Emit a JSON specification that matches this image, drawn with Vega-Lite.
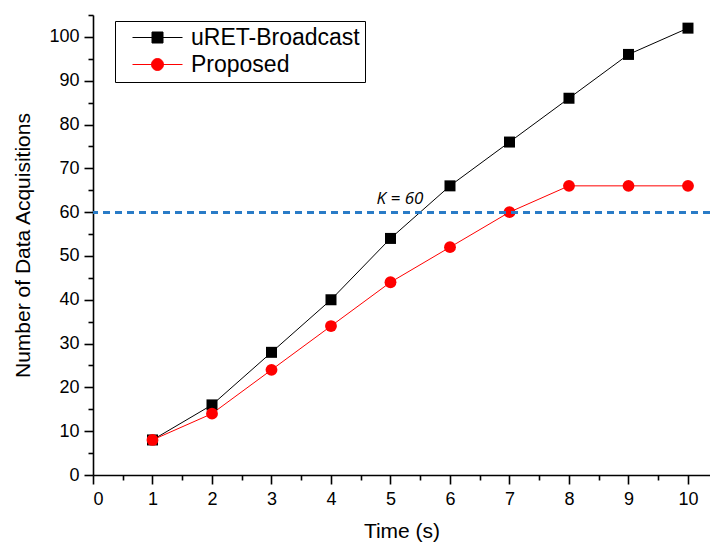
{
  "$schema": "https://vega.github.io/schema/vega-lite/v6.json",
  "width": 617,
  "height": 460,
  "autosize": "none",
  "padding": {"left": 93, "top": 15, "right": 0, "bottom": 70},
  "background": "white",
  "config": {
    "font": "Liberation Sans",
    "view": {"stroke": null},
    "axis": {
      "domainColor": "black", "tickColor": "black", "labelColor": "black", "titleColor": "black",
      "grid": false, "labelFont": "Liberation Sans", "titleFont": "Liberation Sans",
      "titleFontWeight": "normal", "labelFontSize": 18, "titleFontSize": 21,
      "domainWidth": 1.6, "tickWidth": 1.6
    }
  },
  "data": {
    "values": [
      {"t": 1, "n": 8, "series": "uRET-Broadcast"},
      {"t": 2, "n": 16, "series": "uRET-Broadcast"},
      {"t": 3, "n": 28, "series": "uRET-Broadcast"},
      {"t": 4, "n": 40, "series": "uRET-Broadcast"},
      {"t": 5, "n": 54, "series": "uRET-Broadcast"},
      {"t": 6, "n": 66, "series": "uRET-Broadcast"},
      {"t": 7, "n": 76, "series": "uRET-Broadcast"},
      {"t": 8, "n": 86, "series": "uRET-Broadcast"},
      {"t": 9, "n": 96, "series": "uRET-Broadcast"},
      {"t": 10, "n": 102, "series": "uRET-Broadcast"},
      {"t": 1, "n": 8, "series": "Proposed"},
      {"t": 2, "n": 14, "series": "Proposed"},
      {"t": 3, "n": 24, "series": "Proposed"},
      {"t": 4, "n": 34, "series": "Proposed"},
      {"t": 5, "n": 44, "series": "Proposed"},
      {"t": 6, "n": 52, "series": "Proposed"},
      {"t": 7, "n": 60, "series": "Proposed"},
      {"t": 8, "n": 66, "series": "Proposed"},
      {"t": 9, "n": 66, "series": "Proposed"},
      {"t": 10, "n": 66, "series": "Proposed"}
    ]
  },
  "resolve": {"axis": {"x": "independent", "y": "independent"}},
  "layer": [
    {
      "mark": {"type": "line", "strokeWidth": 1},
      "encoding": {
        "x": {"field": "t", "type": "quantitative", "scale": {"domain": [0, 10.37], "nice": false, "zero": false},
              "axis": {"orient": "bottom", "values": [0,1,2,3,4,5,6,7,8,9,10], "title": "Time (s)", "tickSize": 9, "labelPadding": 6, "titlePadding": 12}},
        "y": {"field": "n", "type": "quantitative", "scale": {"domain": [0, 105], "nice": false},
              "axis": {"orient": "left", "values": [0,10,20,30,40,50,60,70,80,90,100], "title": "Number of Data Acquisitions", "tickSize": 9, "labelPadding": 5, "titlePadding": 15}},
        "color": {
          "field": "series", "type": "nominal",
          "scale": {"domain": ["uRET-Broadcast", "Proposed"], "range": ["black", "#ff0000"]},
          "legend": {
            "orient": "none", "legendX": 22, "legendY": 6, "title": null,
            "strokeColor": "black", "padding": 5,
            "labelFontSize": 23, "labelFont": "Liberation Sans", "labelColor": "black", "labelLimit": 300,
            "symbolSize": 100, "symbolOffset": 26, "labelOffset": 22, "rowPadding": 3,
            "symbolStrokeWidth": 1,
            "encode": {
              "symbols": {
                "update": {
                  "shape": {"signal": "datum.value === 'uRET-Broadcast' ? 'M-5,0H5M-1.1,-1.1H1.1V1.1H-1.1Z' : 'M-5,0H5M1.2,0A1.2,1.2 0 1,1 -1.2,0A1.2,1.2 0 1,1 1.2,0Z'"},
                  "fill": {"signal": "datum.value === 'uRET-Broadcast' ? 'black' : '#ff0000'"},
                  "size": {"value": 100},
                  "strokeWidth": {"value": 1},
                  "opacity": {"value": 1}
                }
              }
            }
          }
        }
      }
    },
    {
      "transform": [{"filter": "datum.series === 'uRET-Broadcast'"}],
      "mark": {"type": "point", "shape": "square", "filled": true, "opacity": 1, "color": "black", "size": 121},
      "encoding": {
        "x": {"field": "t", "type": "quantitative",
              "axis": {"orient": "bottom", "values": [0.5,1.5,2.5,3.5,4.5,5.5,6.5,7.5,8.5,9.5], "labels": false, "title": null, "tickSize": 5, "domain": false}},
        "y": {"field": "n", "type": "quantitative",
              "axis": {"orient": "left", "values": [5,15,25,35,45,55,65,75,85,95,105], "labels": false, "title": null, "tickSize": 5, "domain": false}}
      }
    },
    {
      "transform": [{"filter": "datum.series === 'Proposed'"}],
      "mark": {"type": "point", "shape": "circle", "filled": true, "opacity": 1, "color": "#ff0000", "size": 140},
      "encoding": {
        "x": {"field": "t", "type": "quantitative", "axis": null},
        "y": {"field": "n", "type": "quantitative", "axis": null}
      }
    },
    {
      "mark": {"type": "rule", "color": "#2a7bc6", "strokeWidth": 2.2, "strokeDash": [7, 5]},
      "encoding": {"y": {"datum": 60, "type": "quantitative", "axis": null}}
    },
    {
      "data": {"values": [{"x": 5.16, "y": 63.1, "label": "K = 60"}]},
      "mark": {"type": "text", "font": "Open Sans", "fontStyle": "italic", "fontSize": 17, "color": "black"},
      "encoding": {
        "x": {"field": "x", "type": "quantitative", "axis": null},
        "y": {"field": "y", "type": "quantitative", "axis": null},
        "text": {"field": "label"}
      }
    }
  ]
}
